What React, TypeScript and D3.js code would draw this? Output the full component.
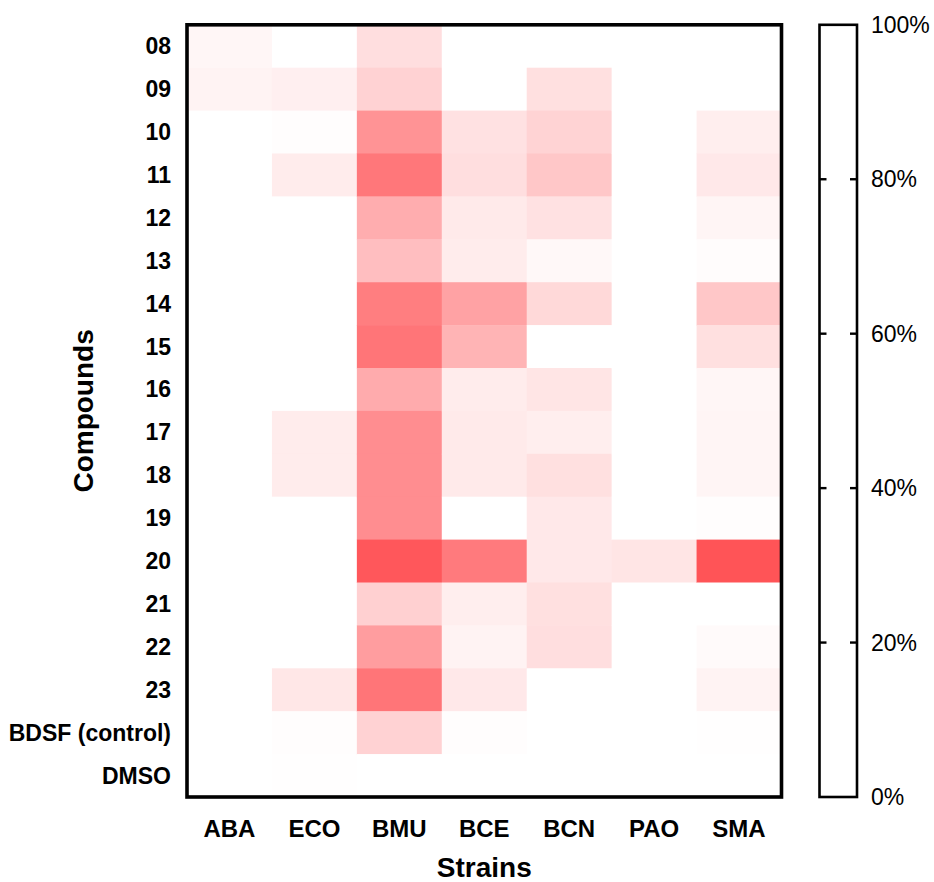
import React, { useEffect, useRef } from "react";
import * as d3 from "d3";

const strains = ["ABA", "ECO", "BMU", "BCE", "BCN", "PAO", "SMA"];
const compounds = ["08", "09", "10", "11", "12", "13", "14", "15", "16", "17", "18", "19", "20", "21", "22", "23", "BDSF (control)", "DMSO"];

// inhibition (%) per strain, in the same order as compounds
const aba = [5, 7, 0, 0, 0, 0, 0, 0, 0, 0, 0, 0, 0, 0, 0, 0, 0, 0];
const eco = [0, 9, 1, 11, 0, 0, 0, 0, 0, 11, 11, 0, 0, 0, 0, 14, 1, 0.5];
const bmu = [19, 26, 62, 78, 47, 37, 74, 79, 48, 65, 65, 65, 96, 27, 56, 79, 26, 0];
const bce = [0, 0, 17, 19, 12, 11, 53, 43, 11, 12, 12, 0, 76, 10, 7, 13, 1, 0];
const bcn = [0, 18, 25, 32, 17, 4, 22, 0, 15, 10, 18, 13, 13, 18, 19, 0, 0, 0];
const pao = [0, 0, 0, 0, 0, 0, 0, 0, 0, 0, 0, 0, 15, 0, 0, 0, 0, 0];
const sma = [0, 0, 10, 13, 6, 2, 32, 18, 5, 6, 6, 1, 98, 0, 3, 7, 0.5, 0];

const legendTicks = [0, 20, 40, 60, 80, 100];

const App = () => {
  const svgRef = useRef<SVGSVGElement>(null);

  useEffect(() => {
    const w = 934;
    const h = 882;
    const svg = d3.select(svgRef.current).attr("width", w).attr("height", h);
    svg.selectAll("*").remove();

    const font = "'Liberation Sans', Arial, sans-serif";
    const left = 187, right = 781.5, top = 24.8, bottom = 797;

    const xScale = d3.scaleBand().domain(strains).range([left, right]);
    const yScale = d3.scaleBand().domain(compounds).range([top, bottom]);
    const color = d3.scaleLinear<string>().domain([0, 100]).range(["#ffffff", "rgb(255,80,84)"]).interpolate(d3.interpolateRgb);

    const series = [aba, eco, bmu, bce, bcn, pao, sma];
    const cells: { s: string; c: string; v: number }[] = [];
    series.forEach((vals, i) => {
      vals.forEach((v, j) => cells.push({ s: strains[i], c: compounds[j], v }));
    });

    svg
      .append("g")
      .selectAll("rect")
      .data(cells)
      .join("rect")
      .attr("x", (d) => xScale(d.s)!)
      .attr("y", (d) => yScale(d.c)!)
      .attr("width", xScale.bandwidth() + 0.5)
      .attr("height", yScale.bandwidth() + 0.5)
      .attr("fill", (d) => color(d.v));

    // frame
    svg
      .append("rect")
      .attr("x", left)
      .attr("y", top)
      .attr("width", right - left)
      .attr("height", bottom - top)
      .attr("fill", "none")
      .attr("stroke", "#000")
      .attr("stroke-width", 3.6);

    // row labels
    svg
      .append("g")
      .selectAll("text")
      .data(compounds)
      .join("text")
      .attr("x", 171)
      .attr("y", (d) => yScale(d)! + yScale.bandwidth() / 2 + 8)
      .attr("text-anchor", "end")
      .style("font-family", font)
      .style("font-weight", "bold")
      .style("font-size", "23px")
      .text((d) => d);

    // column labels
    svg
      .append("g")
      .selectAll("text")
      .data(strains)
      .join("text")
      .attr("x", (d) => xScale(d)! + xScale.bandwidth() / 2)
      .attr("y", 837)
      .attr("text-anchor", "middle")
      .style("font-family", font)
      .style("font-weight", "bold")
      .style("font-size", "24px")
      .text((d) => d);

    svg
      .append("text")
      .attr("x", (left + right) / 2)
      .attr("y", 877)
      .attr("text-anchor", "middle")
      .style("font-family", font)
      .style("font-weight", "bold")
      .style("font-size", "28px")
      .text("Strains");

    svg
      .append("text")
      .attr("transform", `translate(93,${(top + bottom) / 2}) rotate(-90)`)
      .attr("text-anchor", "middle")
      .style("font-family", font)
      .style("font-weight", "bold")
      .style("font-size", "28px")
      .text("Compounds");

    // colour legend
    const lx0 = 819.5, lx1 = 857;
    const legendScale = d3.scaleLinear().domain([0, 100]).range([bottom, top]);
    svg
      .append("rect")
      .attr("x", lx0)
      .attr("y", legendScale(100))
      .attr("width", lx1 - lx0)
      .attr("height", legendScale(0) - legendScale(100))
      .attr("fill", "#fff")
      .attr("stroke", "#000")
      .attr("stroke-width", 2.6);

    const inner = legendTicks.filter((t) => t > 0 && t < 100);
    const tg = svg.append("g");
    tg.selectAll("line.l")
      .data(inner)
      .join("line")
      .attr("class", "l")
      .attr("x1", lx0)
      .attr("x2", lx0 + 7)
      .attr("y1", (d) => legendScale(d))
      .attr("y2", (d) => legendScale(d))
      .attr("stroke", "#000")
      .attr("stroke-width", 2.4);
    tg.selectAll("line.r")
      .data(inner)
      .join("line")
      .attr("class", "r")
      .attr("x1", lx1 - 7)
      .attr("x2", lx1)
      .attr("y1", (d) => legendScale(d))
      .attr("y2", (d) => legendScale(d))
      .attr("stroke", "#000")
      .attr("stroke-width", 2.4);

    tg.selectAll("text")
      .data(legendTicks)
      .join("text")
      .attr("x", 871)
      .attr("y", (d) => legendScale(d) + 8)
      .style("font-family", font)
      .style("font-size", "23px")
      .text((d) => `${d}%`);
  }, []);

  return (
    <div style={{ position: "absolute", left: 0, top: 0 }}>
      <svg ref={svgRef} style={{ display: "block", background: "#fff" }}></svg>
    </div>
  );
};

export default App;
